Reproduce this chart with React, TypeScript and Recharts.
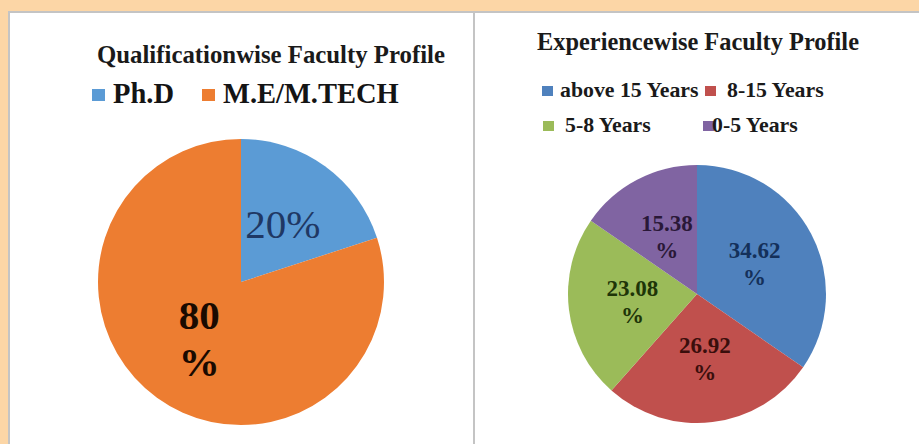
import { PieChart, Pie, Cell } from "recharts";

const qualCategories = ["Ph.D", "M.E/M.TECH"];
const qualValues = [20, 80];
const qualWrap = [false, true];

const expCategories = ["above 15 Years", "8-15 Years", "5-8 Years", "0-5 Years"];
const expValues = [34.62, 26.92, 23.08, 15.38];

const qualColors = ["#5B9BD5", "#ED7D31"];
const qualLabelColors = ["#1F3864", "#1A0A00"];
const expColors = ["#4F81BD", "#C0504D", "#9BBB59", "#8064A2"];
const expLabelColors = ["#14305A", "#3A0E0C", "#1E3508", "#2A1838"];

const RAD = Math.PI / 180;
const FONT = "Liberation Serif";

const qualData = qualCategories.map((name, i) => ({ name, value: qualValues[i] }));
const expData = expCategories.map((name, i) => ({ name, value: expValues[i] }));

function labelPos(p: any, r: number) {
  const x = p.cx + r * Math.cos(-p.midAngle * RAD);
  const y = p.cy + r * Math.sin(-p.midAngle * RAD);
  return { x, y };
}

function QualLabel(p: any) {
  const { x, y } = labelPos(p, 71);
  const i = p.index;
  const v = qualValues[i];
  const lines = qualWrap[i] ? [`${v}`, "%"] : [`${v}%`];
  const lh = 47;
  const first = y - ((lines.length - 1) * lh) / 2 + 13;
  return (
    <text
      x={x}
      y={first}
      textAnchor="middle"
      style={{ fontFamily: FONT }}
      fontSize={41}
      fontWeight={qualWrap[i] ? "bold" : "normal"}
      fill={qualLabelColors[i]}
    >
      {lines.map((l, k) => (
        <tspan key={k} x={x} dy={k === 0 ? 0 : lh}>
          {l}
        </tspan>
      ))}
    </text>
  );
}

function ExpLabel(p: any) {
  const { x, y } = labelPos(p, 65);
  const i = p.index;
  const lines = [`${expValues[i].toFixed(2)}`, "%"];
  const lh = 27;
  const first = y - lh / 2 + 8;
  return (
    <text x={x} y={first} textAnchor="middle" style={{ fontFamily: FONT }} fontSize={23} fontWeight="bold" fill={expLabelColors[i]}>
      {lines.map((l, k) => (
        <tspan key={k} x={x} dy={k === 0 ? 0 : lh}>
          {l}
        </tspan>
      ))}
    </text>
  );
}

const panel = {
  position: "absolute" as const,
  top: 11,
  height: 445,
  background: "#fff",
  border: "2px solid #C4C4C4",
  boxSizing: "border-box" as const,
};

const noMargin = { top: 0, right: 0, bottom: 0, left: 0 };

export default function App() {
  const qualLegendX = [92, 202];
  const expLegendPos = [
    { x: 542, y: 97 },
    { x: 705, y: 97 },
    { x: 543, y: 132 },
    { x: 703, y: 132 },
  ];
  const expTextGap = [18, 22, 22, 9];
  return (
    <div style={{ position: "absolute", left: 0, top: 0, width: 919, height: 444, background: "#FCD6A6", overflow: "hidden", fontFamily: FONT }}>
      <div style={{ ...panel, left: 8, width: 467 }} />
      <div style={{ ...panel, left: 473, width: 452 }} />

      <div style={{ position: "absolute", left: 0, top: 0 }}>
        <PieChart width={919} height={444} margin={noMargin}>
          <Pie
            data={qualData}
            dataKey="value"
            cx={241}
            cy={282}
            outerRadius={143}
            startAngle={90}
            endAngle={-270}
            stroke="none"
            labelLine={false}
            label={QualLabel}
            isAnimationActive={false}
          >
            {qualData.map((d, i) => (
              <Cell key={d.name} fill={qualColors[i]} />
            ))}
          </Pie>
        </PieChart>
      </div>

      <div style={{ position: "absolute", left: 0, top: 0 }}>
        <PieChart width={919} height={444} margin={noMargin}>
          <Pie
            data={expData}
            dataKey="value"
            cx={697}
            cy={294}
            outerRadius={129}
            startAngle={90}
            endAngle={-270}
            stroke="none"
            labelLine={false}
            label={ExpLabel}
            isAnimationActive={false}
          >
            {expData.map((d, i) => (
              <Cell key={d.name} fill={expColors[i]} />
            ))}
          </Pie>
        </PieChart>
      </div>

      <svg width={919} height={444} style={{ position: "absolute", left: 0, top: 0, pointerEvents: "none", fontFamily: FONT }}>
        <text x={271} y={63} textAnchor="middle" fontSize={24.8} fontWeight="bold" fill="#1a1a1a">
          Qualificationwise Faculty Profile
        </text>
        {qualCategories.map((c, i) => (
          <g key={c}>
            <rect x={qualLegendX[i]} y={89} width={13} height={12} fill={qualColors[i]} />
            <text x={qualLegendX[i] + 21} y={103} fontSize={28.5} fontWeight="bold" fill="#141414">
              {c}
            </text>
          </g>
        ))}

        <text x={698} y={50} textAnchor="middle" fontSize={24.4} fontWeight="bold" fill="#1a1a1a">
          Experiencewise Faculty Profile
        </text>
        {expCategories.map((c, i) => (
          <g key={c}>
            <rect x={expLegendPos[i].x} y={expLegendPos[i].y - 11} width={11} height={10} fill={expColors[i]} />
            <text x={expLegendPos[i].x + expTextGap[i]} y={expLegendPos[i].y} fontSize={21.8} fontWeight="bold" fill="#1a1a1a">
              {c}
            </text>
          </g>
        ))}
      </svg>
    </div>
  );
}
